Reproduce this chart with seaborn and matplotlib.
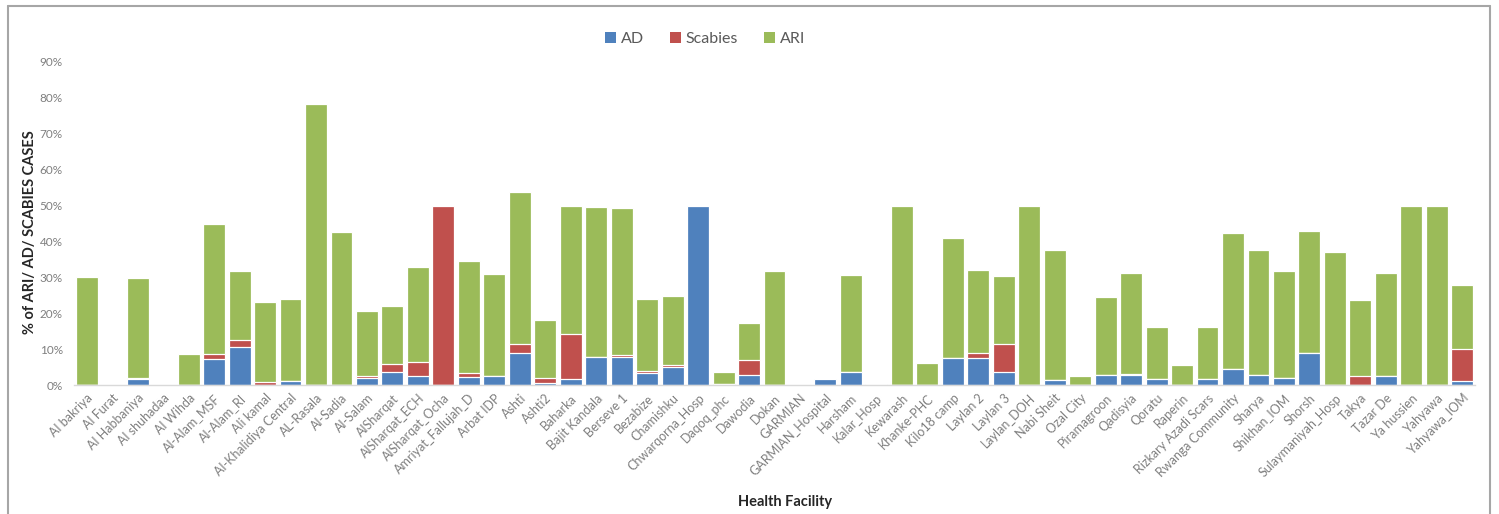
import matplotlib
matplotlib.use("Agg")
import matplotlib.pyplot as plt
from matplotlib.patches import Patch
from matplotlib.lines import Line2D
from matplotlib.ticker import PercentFormatter
import numpy as np
import pandas as pd
import seaborn as sns

# Health facilities on the x axis
facilities = [
    "Al bakriya", "Al Furat", "Al Habbaniya", "Al shuhadaa", "Al Wihda",
    "Al-Alam_MSF", "Al-Alam_RI", "Ali kamal", "Al-Khalidiya Central", "AL-Rasala",
    "Al-Sadia", "Al-Salam", "AlSharqat", "AlSharqat_ECH", "AlSharqat_Ocha",
    "Amriyat_Fallujah_D", "Arbat IDP", "Ashti", "Ashti2", "Baharka",
    "Bajit Kandala", "Berseve 1", "Bezabize", "Chamishku", "Chwarqorna_Hosp",
    "Daqoq_phc", "Dawodia", "Dokan", "GARMIAN", "GARMIAN_Hospital",
    "Harsham", "Kalar_Hosp", "Kewarash", "Khanke-PHC", "Kilo18 camp",
    "Laylan 2", "Laylan 3", "Laylan_DOH", "Nabi Sheit", "Ozal City",
    "Piramagroon", "Qadisyia", "Qoratu", "Raperin", "Rizkary Azadi Scars",
    "Rwanga Community", "Sharya", "Shikhan_IOM", "Shorsh", "Sulaymaniyah_Hosp",
    "Takya", "Tazar De", "Ya hussien", "Yahyawa", "Yahyawa_IOM",
]

# Share of consultations (%) per facility
ad = [
    0.0, 0.0, 1.6, 0.0, 0.0,
    7.2, 10.6, 0.0, 1.1, 0.0,
    0.0, 2.0, 3.7, 2.5, 0.0,
    2.2, 2.6, 8.9, 0.5, 1.8,
    7.9, 7.8, 3.4, 5.0, 50.0,
    0.4, 2.8, 0.0, 0.0, 1.6,
    3.7, 0.3, 0.0, 0.0, 7.4,
    7.4, 3.7, 0.0, 1.4, 0.0,
    2.8, 2.8, 1.8, 0.0, 1.8,
    4.5, 2.8, 2.0, 8.9, 0.0,
    0.0, 2.4, 0.0, 0.0, 1.0,
]
scabies = [
    0.0, 0.0, 0.4, 0.0, 0.0,
    1.5, 1.9, 0.9, 0.0, 0.0,
    0.0, 0.5, 2.1, 3.9, 50.0,
    1.2, 0.0, 2.4, 1.4, 12.4,
    0.0, 0.6, 0.5, 0.5, 0.0,
    0.0, 4.1, 0.0, 0.0, 0.0,
    0.0, 0.0, 0.0, 0.0, 0.0,
    1.5, 7.6, 0.0, 0.0, 0.0,
    0.0, 0.4, 0.0, 0.0, 0.0,
    0.0, 0.0, 0.0, 0.0, 0.0,
    2.4, 0.0, 0.0, 0.0, 9.0,
]
ari = [
    30.1, 0.0, 27.9, 0.0, 8.7,
    36.1, 19.2, 22.3, 22.9, 78.3,
    42.7, 18.2, 16.1, 26.5, 0.0,
    31.1, 28.4, 42.4, 16.1, 35.8,
    41.6, 40.8, 20.2, 19.4, 0.0,
    3.2, 10.5, 31.7, 0.0, 0.0,
    27.0, 0.0, 50.0, 6.0, 33.5,
    23.1, 19.2, 50.0, 36.1, 2.6,
    21.7, 28.0, 14.4, 5.7, 14.4,
    37.8, 34.9, 29.7, 34.1, 37.0,
    21.3, 28.8, 50.0, 50.0, 18.0,
]

series = ["AD", "Scabies", "ARI"]
colors = {"AD": "#4F81BD", "Scabies": "#C0504D", "ARI": "#9BBB59"}

df = pd.DataFrame({"facility": facilities, "AD": ad, "Scabies": scabies, "ARI": ari})
df[series] = df[series] / 100.0
# cumulative tops for the stacked layers (drawn largest first)
df["top_AD"] = df["AD"]
df["top_Scabies"] = df["AD"] + df["Scabies"]
df["top_ARI"] = df["AD"] + df["Scabies"] + df["ARI"]

sns.set_theme(style="white")
plt.rcParams["font.family"] = ["Lato", "DejaVu Sans"]

W, H = 1499, 514
fig = plt.figure(figsize=(W / 100, H / 100), dpi=100)
ax = fig.add_axes([74 / W, 1 - 385 / H, (1475 - 74) / W, (385 - 62) / H])

for name in ["ARI", "Scabies", "AD"]:
    sns.barplot(data=df, x="facility", y="top_" + name, order=facilities,
                color=colors[name], saturation=1, width=0.86,
                edgecolor="white", linewidth=0.9, ax=ax)

ax.set_xlim(-0.5, len(facilities) - 0.5)
ax.set_ylim(0, 0.9)
ax.set_yticks(np.arange(0, 0.91, 0.1))
ax.yaxis.set_major_formatter(PercentFormatter(1.0, decimals=0))
ax.set_xlabel("")
ax.set_ylabel("")
ax.grid(False)
for s in ["top", "right", "left"]:
    ax.spines[s].set_visible(False)
ax.spines["bottom"].set_color("#D9D9D9")
ax.spines["bottom"].set_linewidth(1.0)
ax.tick_params(axis="both", length=0, colors="#7F7F7F")
ax.tick_params(axis="y", labelsize=8.5, pad=8)
ax.tick_params(axis="x", labelsize=9, pad=5)
plt.setp(ax.get_xticklabels(), rotation=45, ha="right", rotation_mode="anchor")

fig.text(785 / W, 1 - 502 / H, "Health Facility", ha="center", va="center",
         fontsize=10.5, fontweight="bold", color="#262626")
fig.text(30 / W, 1 - 232 / H, "% of ARI/ AD/ SCABIES CASES", ha="center", va="center",
         rotation=90, fontsize=10.5, fontweight="bold", color="#262626")

handles = [Patch(facecolor=colors[n], edgecolor="none", label=n) for n in series]
leg = fig.legend(handles=handles, loc="center", bbox_to_anchor=(705 / W, 1 - 39 / H),
                 ncol=3, frameon=False, fontsize=11.5, handlelength=0.7, handleheight=0.7,
                 handletextpad=0.3, columnspacing=1.6)
for t in leg.get_texts():
    t.set_color("#595959")

# chart-area frame (left, top, right)
frame_kw = dict(color="#A6A6A6", linewidth=1.5, transform=fig.transFigure)
fig.add_artist(Line2D([8 / W, 8 / W], [0, 1 - 6 / H], **frame_kw))
fig.add_artist(Line2D([8 / W, 1490 / W], [1 - 6 / H, 1 - 6 / H], **frame_kw))
fig.add_artist(Line2D([1490 / W, 1490 / W], [1 - 6 / H, 0], **frame_kw))

fig.savefig("out.png", dpi=100, facecolor="white")
